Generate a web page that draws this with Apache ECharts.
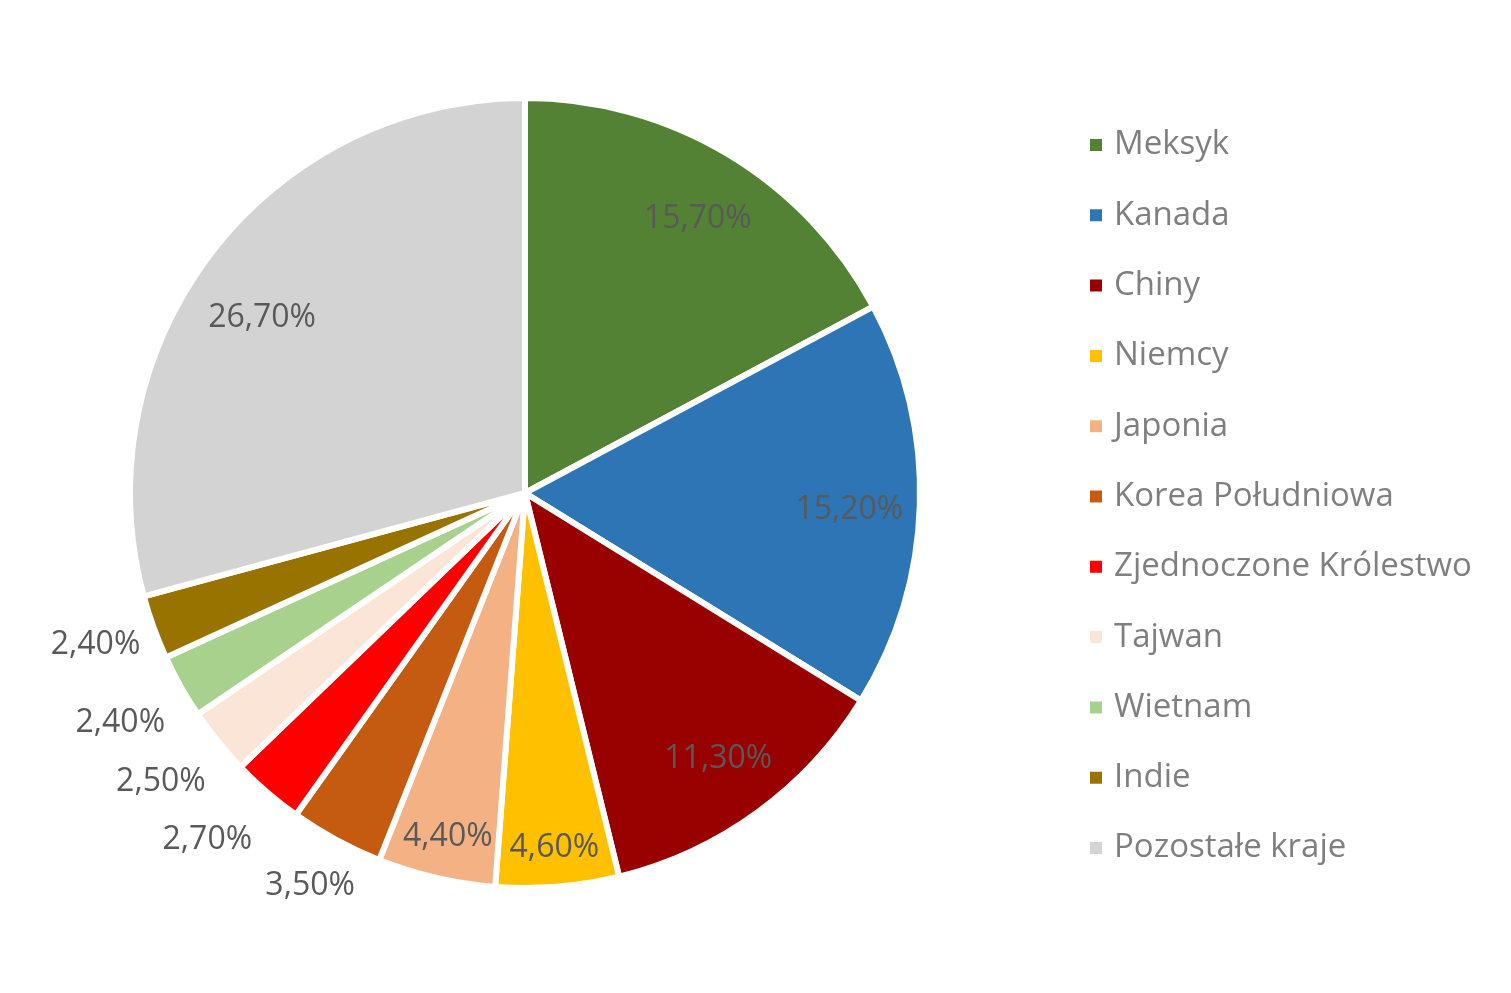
<!DOCTYPE html>
<html>
<head>
<meta charset="utf-8">
<script src="https://cdn.jsdelivr.net/npm/echarts@6/dist/echarts.min.js"></script>
<style>
html,body{margin:0;padding:0;background:#fff;}
#chart{width:1511px;height:993px;}
</style>
</head>
<body>
<div id="chart"></div>
<script>
var categories = ['Meksyk','Kanada','Chiny','Niemcy','Japonia','Korea Południowa','Zjednoczone Królestwo','Tajwan','Wietnam','Indie','Pozostałe kraje'];
var values = [15.7, 15.2, 11.3, 4.6, 4.4, 3.5, 2.7, 2.5, 2.4, 2.4, 26.7];
var colors = ['#548235','#2E75B6','#990000','#FFC000','#F4B183','#C55A11','#FF0000','#FBE5D6','#A9D18E','#997300','#D3D3D3'];
// label placement groups: 'in' (deep inside), 'edge' (near rim inside), 'out' (outside)
var labelGroup = ['in','in','in','edge','edge','out','out','out','out','out','in'];

function fmt(v){ return v.toFixed(2).replace('.', ',') + '%'; }

var CENTER = [525, 493];
var R = 395;

// small label nudges (pixels) matching the reference placement
var nudges = {0:[4,8], 1:[-4,7], 4:[3,-3], 10:[-2,24], 5:[6,-13], 6:[-16,-3], 7:[-5,-2], 8:[-2,3], 9:[5,-5]};

var mainData = categories.map(function(c,i){
  return {name:c, value:values[i], itemStyle:{color:colors[i]}};
});

function overlay(group, r0, r1){
  return {
    type:'pie', center:CENTER, radius:[r0, r1], startAngle:90, clockwise:true,
    silent:true, animation:false, avoidLabelOverlap:false,
    itemStyle:{color:'rgba(0,0,0,0)', borderWidth:0},
    labelLine:{show:false},
    emphasis:{disabled:true},
    labelLayout:function(p){
      var n = nudges[p.dataIndex];
      return n ? {dx:n[0], dy:n[1]} : {};
    },
    data: categories.map(function(c,i){
      return {name:c, value:values[i],
        label:{show: labelGroup[i]===group, position:'inside', formatter: fmt(values[i]),
          color:'#595959', fontSize:32, fontFamily:'Open Sans'}};
    })
  };
}

var chart = echarts.init(document.getElementById('chart'), null, {renderer:'canvas'});
chart.setOption({
  backgroundColor:'#ffffff',
  animation:false,
  legend:{
    orient:'vertical', left:1083, top:120,
    itemWidth:14, itemHeight:14, itemGap:30.3, icon:'rect',
    selectedMode:false,
    textStyle:{color:'#7F7F7F', fontSize:33, fontFamily:'Open Sans', lineHeight:40, padding:[0,0,0,6]},
    data: categories
  },
  series:[
    {
      type:'pie', center:CENTER, radius:[0, R], startAngle:90, clockwise:true,
      animation:false, avoidLabelOverlap:false,
      itemStyle:{borderColor:'#ffffff', borderWidth:6},
      label:{show:false}, labelLine:{show:false},
      emphasis:{disabled:true},
      data: mainData
    },
    overlay('in', 256, R),
    overlay('edge', 312, R),
    overlay('out', 400, 518)
  ]
});
</script>
</body>
</html>
